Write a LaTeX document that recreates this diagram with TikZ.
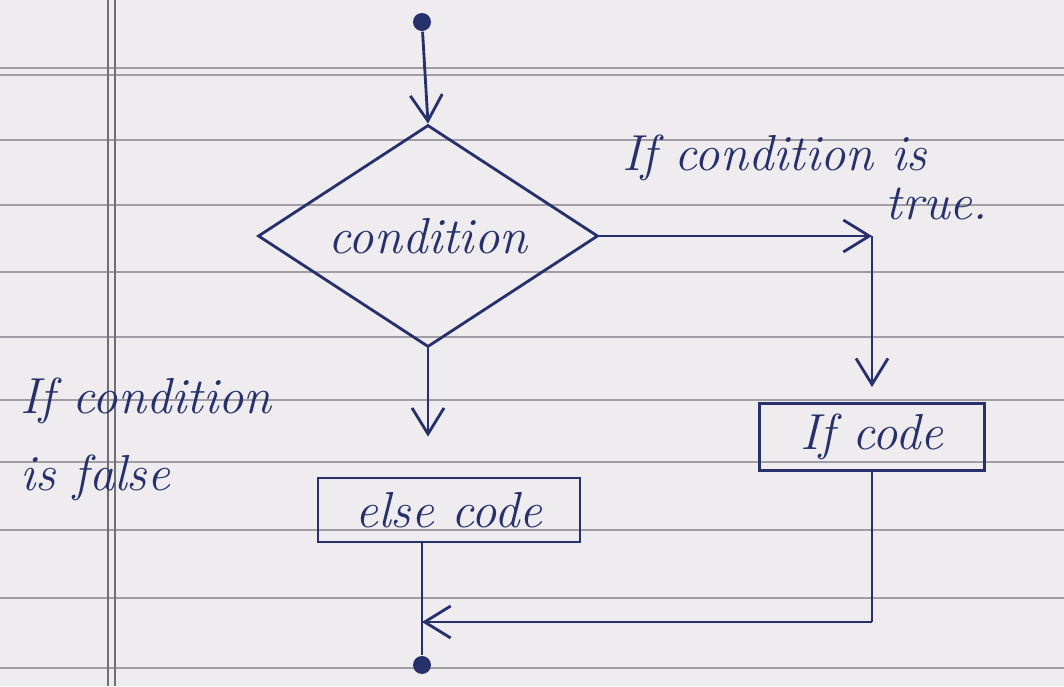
\documentclass[tikz,border=0pt]{standalone}
\usetikzlibrary{shapes.geometric,arrows.meta}
\definecolor{ink}{HTML}{27306A}
\definecolor{paper}{HTML}{EEECEF}
\definecolor{rulegray}{HTML}{A09EA4}
\tikzset{
  inkline/.style={draw=ink,thick},
  flow/.style={draw=ink,thick,-{Straight Barb[length=2.6mm,width=3.2mm]}},
  dot/.style={circle,fill=ink,inner sep=0pt,minimum size=.18cm},
  codebox/.style={draw=ink,thick,minimum height=.64cm,inner sep=3pt,font=\Large\itshape,text=ink},
  note/.style={text=ink,font=\Large\itshape,inner sep=0pt}
}
\begin{document}
\begin{tikzpicture}
\fill[paper] (0,0) rectangle (10.64,6.86);
\useasboundingbox (0,0) rectangle (10.64,6.86);
% ruled page
\foreach \y in {6.18,6.11,5.46,4.81,4.14,3.49,2.86,2.24,1.56,0.88,0.18}
  \draw[rulegray,thin] (0,\y)--(10.64,\y);
\draw[rulegray!70!black,thin] (1.08,0)--(1.08,6.86);
\draw[rulegray!70!black,thin] (1.15,0)--(1.15,6.86);
% flow chart
\node[dot] (start) at (4.22,6.64) {};
\node[diamond,inkline,aspect=1.5,inner sep=0pt,minimum width=3.4cm,minimum height=2.22cm,
  font=\Large\itshape,text=ink] (cond) at (4.28,4.5) {condition};
\node[codebox,minimum width=2.25cm] (ifcode) at (8.72,2.49) {If code};
\node[codebox,minimum width=2.62cm] (elsecode) at (4.49,1.76) {else code};
\node[dot] (stop) at (4.22,0.21) {};
\coordinate (turn) at (ifcode.north |- cond.east);
\coordinate (join) at (ifcode.south |- 0,0.64);
\coordinate (merge) at (stop |- join);
\draw[flow] (start) -- (cond.north);
\draw[flow] (cond.east) -- (turn);
\draw[flow] (turn) -- ([yshift=1.5mm]ifcode.north);
\draw[flow] (cond.south) -- ([yshift=4mm]cond.south |- elsecode.north);
\draw[inkline] (ifcode.south) -- (join);
\draw[flow] (join) -- (merge);
\draw[inkline] (stop |- elsecode.south) -- (stop);
% labels
\node[note,anchor=west] (truenote) at (6.22,5.28) {If condition is};
\node[note,anchor=west] (truenote2) at (8.85,4.82) {true.};
\node[note,anchor=west] (falsenote) at (0.2,2.85) {If condition};
\node[note,anchor=west] (falsenote2) at (0.2,2.08) {is false};
\end{tikzpicture}
\end{document}
